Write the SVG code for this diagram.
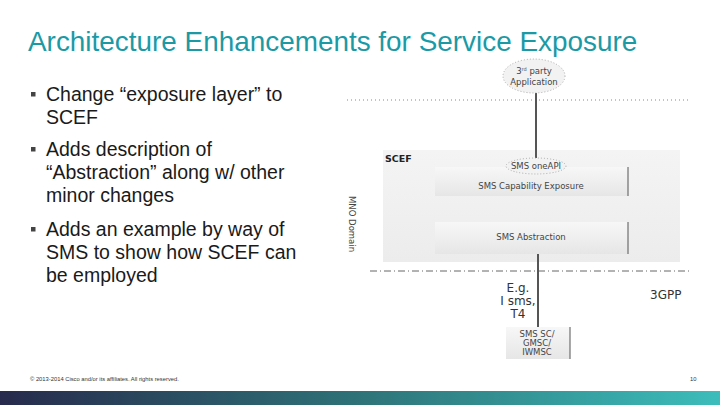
<svg xmlns="http://www.w3.org/2000/svg" width="720" height="405" viewBox="0 0 720 405">
<defs>
<linearGradient id="band" x1="0" y1="0" x2="1" y2="0">
<stop offset="0" stop-color="#272a4c"/>
<stop offset="0.5" stop-color="#2e7378"/>
<stop offset="1" stop-color="#3cbdbb"/>
</linearGradient>
<linearGradient id="box" x1="0" y1="0" x2="0" y2="1">
<stop offset="0" stop-color="#f4f4f4"/>
<stop offset="1" stop-color="#ececec"/>
</linearGradient>
<linearGradient id="inner" x1="0" y1="0" x2="0" y2="1">
<stop offset="0" stop-color="#f7f7f7"/>
<stop offset="1" stop-color="#e6e6e6"/>
</linearGradient>
</defs>
<style>
.t{font-family:"Liberation Sans",Arial,sans-serif;}
.b{font-size:19.5px;fill:#1a1a1a;}
.d{font-family:"DejaVu Sans",sans-serif;font-size:8.5px;fill:#444;}
.l{font-family:"DejaVu Sans",sans-serif;font-size:12px;fill:#333;}
.sep{stroke:#555;stroke-width:1;}
.sq{fill:#444;}
</style>
<rect width="720" height="405" fill="#fff"/>
<text class="t" x="28" y="51" font-size="27.9" fill="#1b9aa6">Architecture Enhancements for Service Exposure</text>
<rect class="sq" x="31" y="92" width="4.5" height="4.5"/>
<rect class="sq" x="31" y="147" width="4.5" height="4.5"/>
<rect class="sq" x="31" y="227" width="4.5" height="4.5"/>
<g class="t b">
<text x="46" y="101">Change “exposure layer” to</text>
<text x="46" y="124">SCEF</text>
<text x="46" y="156">Adds description of</text>
<text x="46" y="179">“Abstraction”  along w/ other</text>
<text x="46" y="202">minor changes</text>
<text x="46" y="236">Adds an example by way of</text>
<text x="46" y="259">SMS to show how SCEF can</text>
<text x="46" y="282">be employed</text>
</g>
<g id="layers">
<line x1="347" y1="100" x2="690" y2="100" stroke="#888" stroke-width="1" stroke-dasharray="1,3"/>
<line x1="370" y1="271" x2="690" y2="271" stroke="#666" stroke-width="1" stroke-dasharray="7,3,1,3"/>
<text class="d" transform="translate(349,196) rotate(90)" font-size="7">MNO Domain</text>
<text class="l" x="643" y="178" font-size="13">OMA/</text>
<text class="l" x="643" y="193" font-size="13">GSMA</text>
<text class="l" x="650" y="299">3GPP</text>
</g>
<g id="scef">
<rect x="383" y="150" width="297" height="112" fill="url(#box)"/>
<text x="385" y="162" font-family="DejaVu Sans,sans-serif" font-size="9.5" font-weight="bold" fill="#222">SCEF</text>
</g>
<g id="connectors" stroke="#555" stroke-width="2">
<line x1="536" y1="93" x2="536" y2="160"/>
<line x1="538" y1="254" x2="538" y2="330"/>
</g>
<g id="exposure">
<rect x="435" y="167" width="193" height="29" fill="url(#inner)"/>
<line class="sep" x1="628" y1="167" x2="628" y2="196"/>
<text class="d" x="531" y="189" text-anchor="middle">SMS Capability Exposure</text>
</g>
<g id="oneapi">
<ellipse cx="536" cy="166" rx="30" ry="8" fill="#f2f2f2" stroke="#999" stroke-width="0.8" stroke-dasharray="1,2"/>
<text class="d" x="536" y="169" text-anchor="middle">SMS oneAPI</text>
</g>
<g id="abstraction">
<rect x="435" y="222" width="193" height="32" fill="url(#inner)"/>
<line class="sep" x1="628" y1="222" x2="628" y2="254"/>
<text class="d" x="531" y="240" text-anchor="middle">SMS Abstraction</text>
</g>
<g id="app">
<ellipse cx="534" cy="76" rx="31" ry="17" fill="#f2f2f2" stroke="#999" stroke-width="0.8" stroke-dasharray="1,2"/>
<text class="d" x="534" y="74" text-anchor="middle">3<tspan font-size="5" dy="-3">rd</tspan><tspan dy="3"> party</tspan></text>
<text class="d" x="534" y="85" text-anchor="middle">Application</text>
</g>
<g id="interface">
<text class="l" x="518" y="292" text-anchor="middle">E.g.</text>
<text class="l" x="518" y="305" text-anchor="middle">I sms,</text>
<text class="l" x="518" y="318" text-anchor="middle">T4</text>
</g>
<g id="smsc">
<rect x="506" y="327" width="64" height="32" fill="url(#inner)"/>
<line class="sep" x1="570" y1="327" x2="570" y2="359"/>
<text class="d" x="537" y="337" text-anchor="middle">SMS SC/</text>
<text class="d" x="537" y="346" text-anchor="middle">GMSC/</text>
<text class="d" x="537" y="355" text-anchor="middle">IWMSC</text>
</g>
<text class="t" x="30" y="381" font-size="5.8" fill="#333">© 2013-2014  Cisco and/or its affiliates. All rights reserved.</text>
<text class="t" x="690" y="381" font-size="5.8" fill="#333">10</text>
<rect x="0" y="391" width="720" height="14" fill="url(#band)"/>
</svg>
